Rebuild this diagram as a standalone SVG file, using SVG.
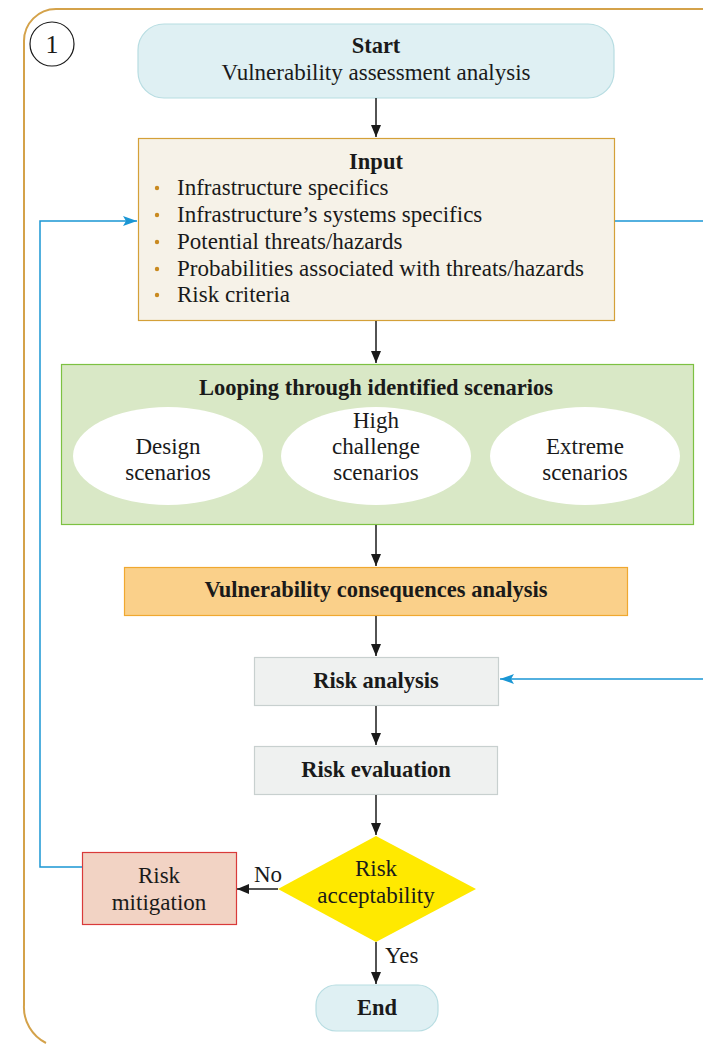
<svg xmlns="http://www.w3.org/2000/svg" width="703" height="1045" viewBox="0 0 703 1045">
<style>
text{font-family:"Liberation Serif","DejaVu Serif",serif;font-size:23px;fill:#1a1a1a}
.c{text-anchor:middle}
.b{font-weight:bold;font-size:22.5px}
.k{stroke:#1a1a1a;stroke-width:1.5;fill:none}
.bl{stroke:#1a96d4;stroke-width:1.5;fill:none}
.dot{fill:#c98a1f}
</style>
<defs>
<marker id="ah" viewBox="0 0 12 10" refX="12" refY="5" markerWidth="12" markerHeight="10" markerUnits="userSpaceOnUse" orient="auto">
<path d="M0,0 L12,5 L0,10 Z" fill="#1a1a1a"/>
</marker>
<marker id="ahb" viewBox="0 0 14 10" refX="14" refY="5" markerWidth="14" markerHeight="10" markerUnits="userSpaceOnUse" orient="auto">
<path d="M0,0 L14,5 L0,10 L3,5 Z" fill="#1a96d4"/>
</marker>
</defs>
<g id="frame">
<path d="M720 9 H56 A32 32 0 0 0 24 41 V1005 A40 40 0 0 0 46 1043" fill="none" stroke="#d4a24a" stroke-width="2"/>
<circle cx="52" cy="44" r="22" fill="#fff" stroke="#1a1a1a" stroke-width="1.2"/>
<text class="c" x="52" y="53" style="font-size:26px">1</text>
</g>
<g id="start">
<rect x="138" y="24" width="476" height="74" rx="26" fill="#dff0f3" stroke="#b8dde2" stroke-width="1.2"/>
<text class="c b" x="376" y="53">Start</text>
<text class="c" x="376" y="80">Vulnerability assessment analysis</text>
</g>
<g id="input">
<rect x="138.5" y="138.5" width="476" height="182" fill="#f6f2e8" stroke="#d4a038" stroke-width="1.2"/>
<text class="c b" x="376" y="169">Input</text>
<circle class="dot" cx="157" cy="188" r="2.2"/>
<circle class="dot" cx="157" cy="215" r="2.2"/>
<circle class="dot" cx="157" cy="242" r="2.2"/>
<circle class="dot" cx="157" cy="269" r="2.2"/>
<circle class="dot" cx="157" cy="295" r="2.2"/>
<text x="177" y="195">Infrastructure specifics</text>
<text x="177" y="222">Infrastructure’s systems specifics</text>
<text x="177" y="249">Potential threats/hazards</text>
<text x="177" y="276">Probabilities associated with threats/hazards</text>
<text x="177" y="302">Risk criteria</text>
</g>
<g id="scenarios">
<rect x="61.5" y="364.5" width="632" height="160" fill="#d9e8c6" stroke="#7dc142" stroke-width="1.2"/>
<text class="c b" x="376" y="395">Looping through identified scenarios</text>
<ellipse cx="168" cy="456" rx="95" ry="49" fill="#fff"/>
<ellipse cx="376" cy="456" rx="95" ry="49" fill="#fff"/>
<ellipse cx="585" cy="456" rx="95" ry="49" fill="#fff"/>
<text class="c" x="168" y="454">Design</text>
<text class="c" x="168" y="480">scenarios</text>
<text class="c" x="376" y="428">High</text>
<text class="c" x="376" y="454">challenge</text>
<text class="c" x="376" y="480">scenarios</text>
<text class="c" x="585" y="454">Extreme</text>
<text class="c" x="585" y="480">scenarios</text>
</g>
<g id="consequences">
<rect x="124.5" y="567.5" width="503" height="48" fill="#fad08a" stroke="#f0a830" stroke-width="1.2"/>
<text class="c b" x="376" y="597">Vulnerability consequences analysis</text>
</g>
<g id="riskanalysis">
<rect x="254.5" y="657.5" width="244" height="48" fill="#eff1f0" stroke="#c8d0cf" stroke-width="1.2"/>
<text class="c b" x="376" y="688">Risk analysis</text>
</g>
<g id="riskevaluation">
<rect x="254.5" y="746.5" width="243" height="48" fill="#eff1f0" stroke="#c8d0cf" stroke-width="1.2"/>
<text class="c b" x="376" y="777">Risk evaluation</text>
</g>
<g id="acceptability">
<polygon points="376,836 476,889 376,942 278,889" fill="#ffe900"/>
<text class="c" x="376" y="876">Risk</text>
<text class="c" x="376" y="903">acceptability</text>
</g>
<g id="mitigation">
<rect x="82.5" y="852.5" width="154" height="72" fill="#f2d3c4" stroke="#d93a3a" stroke-width="1.2"/>
<text class="c" x="159" y="883">Risk</text>
<text class="c" x="159" y="910">mitigation</text>
</g>
<g id="end">
<rect x="316" y="985" width="122" height="46" rx="20" fill="#dff0f3" stroke="#b8dde2" stroke-width="1.2"/>
<text class="c b" x="377" y="1015">End</text>
</g>
<g id="connectors">
<line class="k" x1="376" y1="98" x2="376" y2="137" marker-end="url(#ah)"/>
<line class="k" x1="376" y1="321" x2="376" y2="363" marker-end="url(#ah)"/>
<line class="k" x1="376" y1="525" x2="376" y2="566" marker-end="url(#ah)"/>
<line class="k" x1="376" y1="616" x2="376" y2="656" marker-end="url(#ah)"/>
<line class="k" x1="376" y1="706" x2="376" y2="745" marker-end="url(#ah)"/>
<line class="k" x1="376" y1="795" x2="376" y2="835" marker-end="url(#ah)"/>
<line class="k" x1="278" y1="889" x2="237" y2="889" marker-end="url(#ah)"/>
<text x="254" y="882">No</text>
<line class="k" x1="376" y1="942" x2="376" y2="984" marker-end="url(#ah)"/>
<text x="385" y="963">Yes</text>
<polyline class="bl" points="82,867 40,867 40,221 137,221" marker-end="url(#ahb)"/>
<line class="bl" x1="615" y1="221" x2="703" y2="221"/>
<line class="bl" x1="703" y1="679" x2="500" y2="679" marker-end="url(#ahb)"/>
</g>
</svg>
